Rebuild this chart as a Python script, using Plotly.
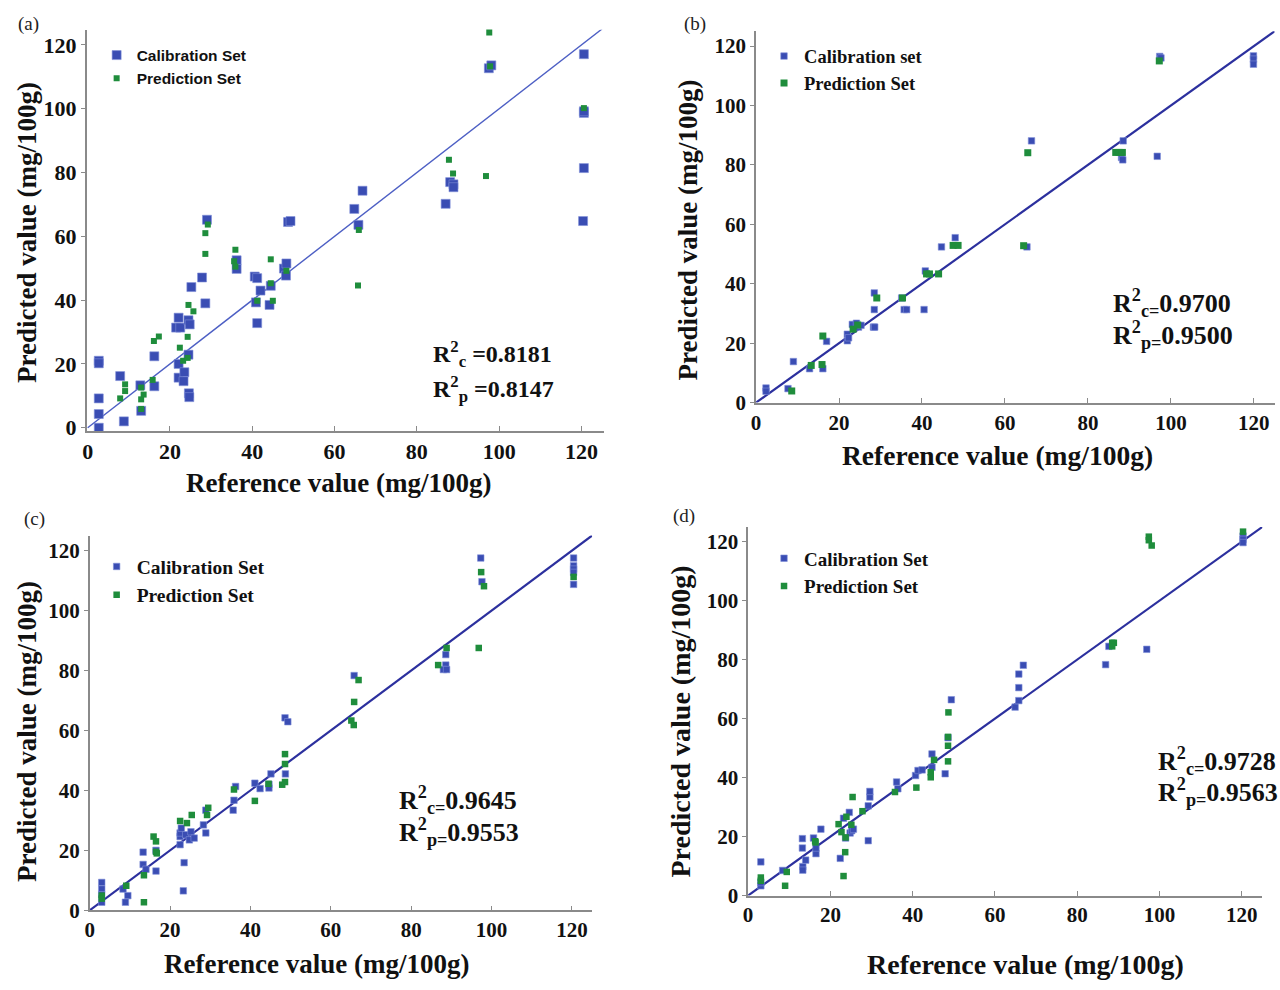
import plotly.graph_objects as go

W, H = 1280, 990

# ---------------- data ----------------
ticks = [0, 20, 40, 60, 80, 100, 120]
ref_line = [0, 125]

a_cal_x = [2.7, 2.7, 2.7, 2.7, 2.7, 7.9, 8.8, 12.8, 13.0, 16.2, 16.2, 22.1, 21.5, 22.5, 22.1, 22.1, 23.5, 23.3,
           24.5, 24.8, 24.5, 24.6, 24.7, 25.2, 27.8, 28.6, 29.0, 36.2, 36.2, 40.6, 41.2, 40.9, 41.2, 42.0, 44.5,
           44.2, 47.7, 48.3, 48.2, 48.7, 49.3, 64.8, 65.8, 66.8, 87.0, 88.1, 88.9, 88.9, 97.5, 98.1, 120.6,
           120.6, 120.6, 120.6, 120.4]
a_cal_y = [21.0, 20.2, 9.2, 4.3, 0.0, 16.2, 2.0, 13.3, 5.3, 22.4, 13.0, 34.5, 31.4, 31.4, 20.0, 15.7, 17.4, 14.6,
           33.7, 32.4, 22.9, 10.8, 9.6, 44.1, 47.1, 39.0, 65.2, 52.5, 49.8, 47.4, 46.9, 39.3, 32.8, 43.0, 44.5,
           38.5, 49.9, 51.5, 47.7, 64.5, 64.8, 68.6, 63.6, 74.3, 70.2, 77.0, 76.3, 75.4, 112.7, 113.6, 117.1,
           98.7, 99.2, 81.4, 64.8]
a_pred_x = [7.9, 9.1, 9.1, 13.0, 13.0, 13.0, 13.6, 15.8, 16.1, 17.3, 22.4, 23.2, 24.3, 24.3, 24.5, 25.7, 28.6,
            28.6, 29.2, 35.9, 35.6, 35.9, 41.2, 44.5, 44.5, 45.0, 48.3, 65.9, 65.7, 87.8, 88.8, 96.8, 97.6,
            97.8, 120.6]
a_pred_y = [9.2, 13.6, 11.5, 12.6, 8.9, 5.9, 10.4, 15.0, 27.2, 28.6, 25.1, 21.0, 21.9, 28.5, 38.5, 36.5, 54.5,
            61.0, 63.7, 55.8, 52.2, 50.5, 39.8, 52.8, 45.3, 39.8, 49.2, 62.0, 44.6, 84.0, 79.7, 78.9, 123.9,
            113.3, 100.2]

b_cal_x = [2.4, 2.4, 7.7, 9.0, 12.9, 16.1, 17.0, 22.0, 22.0, 22.3, 23.2, 24.2, 24.7, 25.3, 28.5, 28.5, 28.3,
           28.6, 35.1, 35.7, 36.3, 40.5, 40.8, 44.7, 48.0, 65.3, 66.4, 88.5, 88.1, 88.4, 96.7, 97.3, 97.6,
           119.9, 119.9, 119.9]
b_cal_y = [4.9, 3.8, 4.7, 13.8, 11.4, 11.4, 20.6, 23.0, 20.8, 21.8, 26.3, 26.7, 25.4, 26.0, 36.9, 31.3, 25.4,
           25.4, 35.2, 31.3, 31.3, 31.3, 44.3, 52.4, 55.5, 52.4, 88.1, 88.1, 82.5, 81.7, 82.9, 116.5, 116.0,
           116.7, 115.6, 113.9]
b_pred_x = [8.6, 13.3, 15.9, 16.1, 23.4, 24.5, 29.1, 35.3, 41.1, 41.8, 44.0, 47.5, 48.7, 64.5, 65.5, 86.7,
            87.5, 88.3, 97.2]
b_pred_y = [3.9, 12.5, 12.8, 22.4, 24.7, 26.1, 35.2, 35.2, 43.3, 43.3, 43.3, 52.9, 52.9, 52.8, 84.1, 84.2,
            84.2, 84.2, 115.0]

c_cal_x = [3.0, 3.0, 3.0, 3.0, 8.3, 9.5, 8.9, 13.3, 13.3, 14.0, 16.5, 16.5, 22.5, 22.5, 22.5, 22.8, 23.5, 23.3,
           23.9, 24.8, 25.2, 26.0, 28.3, 28.9, 28.9, 35.7, 35.9, 36.3, 41.1, 42.4, 44.6, 44.6, 45.1, 48.7, 48.6,
           49.3, 65.8, 88.6, 88.6, 88.0, 88.8, 97.3, 97.6, 120.4, 120.4, 120.4, 120.4, 120.4]
c_cal_y = [9.3, 7.1, 5.2, 2.7, 7.1, 4.9, 2.7, 19.4, 15.3, 13.7, 13.1, 20.0, 24.6, 25.8, 21.9, 27.4, 15.9, 6.5,
           25.2, 23.5, 26.2, 24.1, 28.5, 25.8, 33.4, 33.4, 36.7, 41.3, 42.4, 40.6, 42.0, 40.8, 45.5, 45.5, 64.2,
           62.9, 78.3, 85.3, 81.8, 80.3, 80.3, 117.5, 109.6, 117.5, 114.9, 113.8, 112.7, 108.7]
c_pred_x = [3.0, 3.0, 9.1, 13.5, 13.5, 15.9, 16.5, 16.5, 16.7, 22.5, 24.2, 25.4, 29.5, 29.2, 35.9, 41.1, 44.5,
            47.9, 48.6, 48.6, 48.6, 65.1, 65.7, 65.8, 66.9, 86.7, 88.8, 96.8, 97.4, 98.1, 120.4]
c_pred_y = [4.9, 3.9, 8.2, 2.7, 11.7, 24.6, 23.0, 19.5, 19.0, 29.8, 29.1, 31.8, 34.2, 31.8, 40.3, 36.5, 42.2,
            41.9, 42.8, 52.1, 48.8, 63.3, 61.8, 69.5, 76.8, 81.8, 87.5, 87.5, 112.8, 108.1, 111.2]

d_cal_x = [3.1, 3.1, 3.1, 8.4, 13.2, 13.2, 13.3, 13.3, 14.0, 15.9, 16.5, 16.5, 17.7, 22.4, 23.2, 23.7, 24.6,
           24.8, 25.2, 25.6, 29.2, 29.2, 29.6, 29.6, 36.1, 36.4, 40.7, 41.3, 42.3, 44.7, 44.7, 47.9, 48.6, 49.4,
           64.9, 65.8, 65.8, 65.8, 66.9, 86.9, 87.7, 96.9, 120.3, 120.3, 120.3]
d_cal_y = [11.4, 3.3, 4.4, 8.5, 16.1, 19.3, 9.8, 8.6, 12.0, 19.5, 14.2, 16.1, 22.5, 12.6, 26.2, 19.5, 28.2,
           21.2, 22.0, 22.5, 18.6, 30.4, 33.4, 35.3, 38.5, 36.2, 40.7, 42.4, 42.6, 48.0, 43.5, 41.3, 53.5, 66.4,
           63.9, 75.1, 70.5, 66.1, 78.1, 78.3, 84.5, 83.5, 121.9, 120.8, 119.7]
d_pred_x = [3.1, 3.1, 9.0, 9.4, 16.3, 16.4, 22.0, 22.7, 23.2, 23.6, 23.7, 23.9, 25.1, 25.4, 27.8, 35.7, 40.9,
            44.4, 44.4, 45.2, 48.7, 48.6, 48.6, 48.6, 88.5, 88.9, 88.5, 97.4, 97.4, 98.1, 120.3]
d_pred_y = [6.1, 5.0, 3.3, 8.0, 18.4, 18.0, 24.2, 21.5, 6.6, 14.7, 19.7, 26.7, 24.0, 33.4, 28.6, 35.1, 36.6,
            41.8, 40.1, 46.0, 62.1, 53.8, 50.8, 45.5, 85.7, 85.7, 84.5, 121.7, 120.5, 118.7, 123.4]

r2_texts = [
    ("R<sup>2</sup><sub>c</sub> =0.8181", "R<sup>2</sup><sub>p</sub> =0.8147"),
    ("R<sup>2</sup><sub>c=</sub>0.9700", "R<sup>2</sup><sub>p=</sub>0.9500"),
    ("R<sup>2</sup><sub>c=</sub>0.9645", "R<sup>2</sup><sub>p=</sub>0.9553"),
    ("R<sup>2</sup><sub>c=</sub>0.9728", "R<sup>2</sup><sub>p=</sub>0.9563"),
]
legend_names = [("Calibration Set", "Prediction Set"), ("Calibration set", "Prediction Set"),
                ("Calibration Set", "Prediction Set"), ("Calibration Set", "Prediction Set")]
panel_labels = ["(a)", "(b)", "(c)", "(d)"]
x_title = "Reference value (mg/100g)"
y_title = "Predicted value (mg/100g)"

# ---------------- styling ----------------
SERIF = "Liberation Serif, Times New Roman, serif"
SANS = "Liberation Sans, Arial, sans-serif"
BLUE = "#3a4db3"
GREEN = "#1f8d3c"


def X(px):
    return px / W


def Y(py):
    return 1 - py / H


panels = [
    dict(cx=a_cal_x, cy=a_cal_y, px=a_pred_x, py=a_pred_y,
         xd=(82, 601), yd=(436, 30), xr=[-0.24, 125.4], yr=[-0.93, 124.8],
         csize=9, psize=6, line=dict(color="#4d5fc4", width=1.4), tfs=22,
         leg=dict(x=92, y=39, font=dict(family=SANS, size=15.5, weight="bold")),
         r2=(428, 358, 394, 24), xt=(335, 489, 27), yt=(22, 235, 27), lab=(24, 24)),
    dict(cx=b_cal_x, cy=b_cal_y, px=b_pred_x, py=b_pred_y,
         xd=(754, 1274.6), yd=(407.5, 31.6), xr=[0, 125], yr=[0, 125],
         csize=6.5, psize=7, line=dict(color="#2c309e", width=2.2), tfs=21,
         leg=dict(x=762, y=38, font=dict(family=SERIF, size=18.5, weight="bold")),
         r2=(1110, 307, 339, 26), xt=(996, 461, 27.5), yt=(686, 233, 27), lab=(693, 24)),
    dict(cx=c_cal_x, cy=c_cal_y, px=c_pred_x, py=c_pred_y,
         xd=(85, 589.4), yd=(921.5, 542.1), xr=[0, 125], yr=[0, 125],
         csize=6.5, psize=6.5, line=dict(color="#2c309e", width=2.2), tfs=21,
         leg=dict(x=92, y=554, font=dict(family=SERIF, size=19.5, weight="bold")),
         r2=(394, 810, 842, 26), xt=(313, 976, 27), yt=(22, 740, 27), lab=(30, 525)),
    dict(cx=d_cal_x, cy=d_cal_y, px=d_pred_x, py=d_pred_y,
         xd=(746, 1262.3), yd=(906.5, 533.4), xr=[0, 125], yr=[0, 125],
         csize=6.5, psize=6.5, line=dict(color="#2c309e", width=2.2), tfs=21,
         leg=dict(x=762, y=546, font=dict(family=SERIF, size=19, weight="bold")),
         r2=(1156, 770, 802, 26), xt=(1025, 976, 28), yt=(678, 730, 28), lab=(682, 522)),
]

fig = go.Figure()
annotations = []
layout = {}

for i, p in enumerate(panels):
    n = "" if i == 0 else str(i + 1)
    xa, ya = "x" + n, "y" + n
    lg = "legend" + n
    fig.add_trace(go.Scatter(x=ref_line, y=ref_line, mode="lines", line=p["line"], xaxis=xa, yaxis=ya,
                             showlegend=False, hoverinfo="skip", cliponaxis=False))
    fig.add_trace(go.Scatter(x=p["cx"], y=p["cy"], mode="markers", name=legend_names[i][0],
                             marker=dict(symbol="square", size=p["csize"], color=BLUE,
                                         line=dict(width=0.6, color="#7f8fd8")),
                             xaxis=xa, yaxis=ya, legend=lg, cliponaxis=False))
    fig.add_trace(go.Scatter(x=p["px"], y=p["py"], mode="markers", name=legend_names[i][1],
                             marker=dict(symbol="square", size=p["psize"], color=GREEN, line=dict(width=0)),
                             xaxis=xa, yaxis=ya, legend=lg, cliponaxis=False))

    common = dict(showgrid=False, zeroline=False, showline=True, linecolor="#8a8a8a", linewidth=1.5,
                  tickmode="array", tickvals=ticks, ticktext=[str(t) for t in ticks],
                  tickfont=dict(family=SERIF, size=p["tfs"], color="#111", weight="bold"),
                  tickcolor="#8a8a8a", fixedrange=True)
    layout["xaxis" + n] = dict(domain=[X(p["xd"][0]), X(p["xd"][1])], range=p["xr"], anchor=ya,
                               ticks="inside", ticklen=5, **common)
    layout["yaxis" + n] = dict(domain=[Y(p["yd"][0]), Y(p["yd"][1])], range=p["yr"], anchor=xa,
                               ticks="outside", ticklen=4, **common)
    layout[lg] = dict(x=X(p["leg"]["x"]), y=Y(p["leg"]["y"]), xanchor="left", yanchor="top",
                      bgcolor="rgba(0,0,0,0)", font=dict(color="#111", **p["leg"]["font"]),
                      tracegroupgap=0, itemwidth=30)

    rx, ry1, ry2, rfs = p["r2"]
    for txt, ry in zip(r2_texts[i], (ry1, ry2)):
        annotations.append(dict(text=txt, x=X(rx), y=Y(ry), xref="paper", yref="paper", xanchor="left",
                                yanchor="middle", showarrow=False,
                                font=dict(family=SERIF, size=rfs, color="#111", weight="bold")))
    tx, ty, tfs = p["xt"]
    annotations.append(dict(text=x_title, x=X(tx), y=Y(ty), xref="paper", yref="paper", xanchor="center",
                            yanchor="middle", showarrow=False,
                            font=dict(family=SERIF, size=tfs, color="#111", weight="bold")))
    tx, ty, tfs = p["yt"]
    annotations.append(dict(text=y_title, x=X(tx), y=Y(ty), xref="paper", yref="paper", xanchor="center",
                            yanchor="middle", showarrow=False, textangle=-90,
                            font=dict(family=SERIF, size=tfs, color="#111", weight="bold")))
    lx, ly = p["lab"]
    annotations.append(dict(text=panel_labels[i], x=X(lx), y=Y(ly), xref="paper", yref="paper",
                            xanchor="center", yanchor="middle", showarrow=False,
                            font=dict(family=SERIF, size=19, color="#222")))

fig.update_layout(width=W, height=H, margin=dict(l=0, r=0, t=0, b=0), paper_bgcolor="white",
                  plot_bgcolor="white", annotations=annotations, **layout)

fig.write_html("out.html", config={"displayModeBar": False},
               post_script="document.body.style.margin='0px';document.body.style.overflow='hidden';")
